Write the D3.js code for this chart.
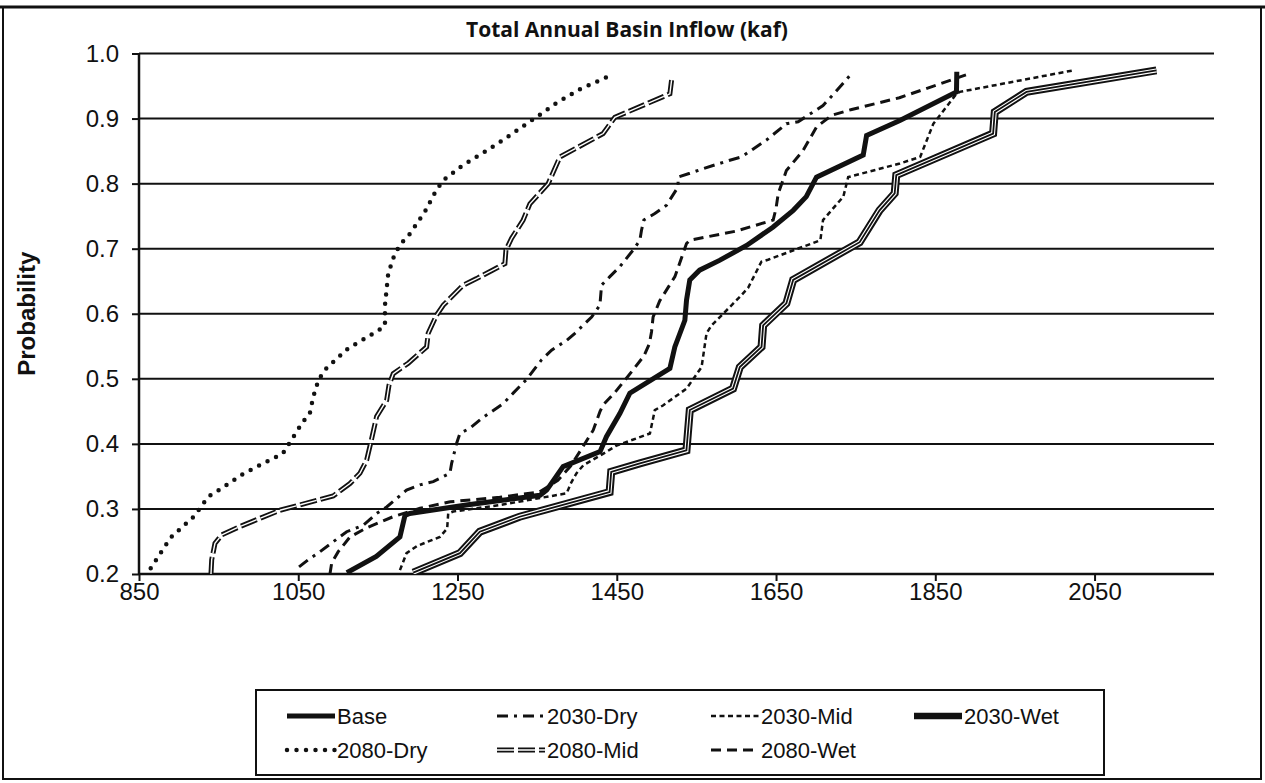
<!DOCTYPE html>
<html>
<head>
<meta charset="utf-8">
<script src="https://cdn.jsdelivr.net/npm/d3@7"></script>
<style>
  html, body { margin: 0; padding: 0; background: #fff; }
  svg { display: block; }
</style>
</head>
<body>
<svg id="chart" width="1265" height="783"></svg>
<script>
// ---------------- DATA (value kaf, probability) ----------------
const title = "Total Annual Basin Inflow (kaf)";
const yAxisLabel = "Probability";
const xTickValues = [850, 1050, 1250, 1450, 1650, 1850, 2050];
const yTickValues = [0.2, 0.3, 0.4, 0.5, 0.6, 0.7, 0.8, 0.9, 1.0];
const xDomain = [850, 2200];
const yDomain = [0.2, 1.0];

const base = [[1111,0.202],[1148,0.227],[1177.7,0.257],[1184,0.290],[1190,0.293],[1261,0.306],[1353.5,0.321],[1362,0.329],[1382.6,0.365],[1429,0.388],[1437,0.411],[1454,0.447],[1466.4,0.478],[1516.7,0.516],[1522.9,0.549],[1535.5,0.590],[1537.6,0.621],[1541.7,0.652],[1554,0.667],[1579,0.682],[1613,0.705],[1646,0.733],[1671.6,0.759],[1688,0.780],[1700.8,0.810],[1759.5,0.844],[1763.7,0.874],[1805.5,0.897],[1876.6,0.941],[1877,0.972]];

const dry2030 = [[1051,0.211],[1062.6,0.222],[1077,0.234],[1110.8,0.265],[1131.6,0.275],[1148.4,0.293],[1161,0.303],[1186,0.329],[1202.8,0.337],[1219.5,0.342],[1240.5,0.355],[1242.6,0.370],[1248.9,0.401],[1253,0.416],[1265.5,0.424],[1280.3,0.439],[1307.4,0.462],[1319.9,0.478],[1336.7,0.499],[1355.5,0.529],[1368.1,0.544],[1386.9,0.559],[1397.4,0.570],[1418.4,0.595],[1428.8,0.613],[1430.9,0.644],[1441.3,0.657],[1453.6,0.672],[1470.6,0.698],[1479,0.713],[1481,0.728],[1484,0.744],[1497.8,0.754],[1512.5,0.767],[1527,0.795],[1527,0.810],[1541.8,0.816],[1558.5,0.823],[1592,0.836],[1606.7,0.841],[1621,0.853],[1638,0.867],[1663,0.892],[1677.7,0.895],[1709,0.920],[1724,0.940],[1734,0.954],[1744.8,0.969]];

const mid2030 = [[1177.7,0.206],[1186,0.232],[1199,0.243],[1227.9,0.257],[1237,0.270],[1238.3,0.293],[1244.6,0.296],[1303.2,0.306],[1387,0.324],[1393,0.341],[1399.5,0.355],[1408,0.367],[1437.2,0.388],[1449,0.397],[1491.6,0.416],[1497.8,0.452],[1508,0.459],[1537.6,0.485],[1556.5,0.518],[1562.7,0.570],[1569,0.582],[1604.6,0.626],[1615,0.640],[1631.6,0.680],[1640,0.683],[1705.7,0.713],[1709,0.744],[1734.5,0.780],[1740.6,0.810],[1805.5,0.831],[1831,0.841],[1847.5,0.892],[1876.6,0.938],[1880.8,0.941],[2023,0.974]];

const wet2030 = [[1194.4,0.202],[1253,0.232],[1278,0.265],[1328,0.288],[1441,0.326],[1443,0.357],[1479,0.370],[1537.5,0.390],[1541.7,0.452],[1596,0.485],[1604.5,0.518],[1631.8,0.549],[1633.8,0.582],[1663,0.616],[1671.5,0.652],[1755,0.710],[1780,0.759],[1799,0.785],[1801,0.813],[1922.6,0.877],[1924.7,0.910],[1964.5,0.941],[2127.7,0.974]];

const dry2080 = [[864.7,0.209],[889.8,0.256],[919.4,0.289],[937,0.319],[951.7,0.330],[980.9,0.354],[1006.1,0.370],[1030.4,0.385],[1038.3,0.400],[1054.3,0.431],[1064.7,0.448],[1068.8,0.472],[1075.1,0.497],[1082.6,0.513],[1094,0.526],[1112.8,0.547],[1137.9,0.565],[1158.9,0.581],[1158.9,0.613],[1163,0.662],[1171.4,0.693],[1179.8,0.709],[1190.2,0.723],[1209.1,0.757],[1222.9,0.789],[1232,0.805],[1255.2,0.827],[1284.4,0.849],[1309.5,0.869],[1336.8,0.892],[1351.3,0.904],[1374.4,0.924],[1403.7,0.945],[1428.8,0.959],[1441.3,0.966]];

const mid2080 = [[940.4,0.200],[941.3,0.222],[945.4,0.247],[953.8,0.260],[976.8,0.273],[1027,0.298],[1093.9,0.320],[1114.9,0.339],[1127.5,0.355],[1135.9,0.375],[1140.9,0.401],[1148.4,0.442],[1161,0.467],[1163.9,0.490],[1169.3,0.508],[1188.1,0.524],[1211.2,0.549],[1213.2,0.570],[1223.7,0.598],[1232,0.613],[1257.1,0.644],[1273.9,0.654],[1309.5,0.677],[1310.8,0.698],[1317.9,0.716],[1332.4,0.744],[1340.9,0.769],[1363.9,0.800],[1378.6,0.841],[1432.9,0.877],[1447.6,0.902],[1516.7,0.938],[1518.8,0.959]];

const wet2080 = [[1089.8,0.200],[1092,0.217],[1100,0.234],[1115,0.257],[1136,0.271],[1169,0.288],[1203,0.301],[1241,0.311],[1303,0.318],[1353,0.326],[1376,0.344],[1392,0.366],[1403.6,0.388],[1420.4,0.421],[1429,0.450],[1433,0.460],[1447,0.478],[1470,0.513],[1484,0.535],[1491,0.554],[1493.6,0.572],[1495.6,0.595],[1504,0.620],[1523,0.657],[1537.6,0.708],[1541.7,0.713],[1600,0.727],[1646.4,0.744],[1650,0.762],[1652.8,0.785],[1663,0.820],[1684,0.851],[1700.8,0.887],[1720,0.905],[1745,0.914],[1805,0.932],[1893,0.969]];

const seriesNames = ["Base","2030-Dry","2030-Mid","2030-Wet","2080-Dry","2080-Mid","2080-Wet"];

// ---------------- STYLES ----------------
const styles = {
  "Base":     [{w:5, dash:null}],
  "2030-Dry": [{w:3, dash:"11,6,3,6"}],
  "2030-Mid": [{w:2.5, dash:"5,3.5"}],
  "2030-Wet": [{w:8, dash:null},{w:4, dash:null, color:"#fff"},{w:1.8, dash:null}],
  "2080-Dry": [{w:4.5, dash:"0,9.5", cap:"round"}],
  "2080-Mid": [{w:5, dash:"17,4"},{w:1.4, dash:"17,4", color:"#fff"}],
  "2080-Wet": [{w:3, dash:"10,6"}]
};
const legendStyles = Object.assign({}, styles, {"2030-Wet":[{w:6.5,dash:null}]});
const seriesData = {"Base":base,"2030-Dry":dry2030,"2030-Mid":mid2030,"2030-Wet":wet2030,"2080-Dry":dry2080,"2080-Mid":mid2080,"2080-Wet":wet2080};

// ---------------- DRAW ----------------
const svg = d3.select("#chart");
const L = 139, R = 1214, T = 53.5, B = 574;
const x = d3.scaleLinear().domain(xDomain).range([L, R]);
const y = d3.scaleLinear().domain(yDomain).range([B, T]);

// outer frame
svg.append("rect").attr("x",3).attr("y",7).attr("width",1258).attr("height",772)
  .attr("fill","none").attr("stroke","#111").attr("stroke-width",2);
svg.append("line").attr("x1",0).attr("x2",1265).attr("y1",7).attr("y2",7).attr("stroke","#111").attr("stroke-width",3);

// title
svg.append("text").attr("x",627).attr("y",37).attr("text-anchor","middle")
  .attr("font-family","'Open Sans', sans-serif").attr("font-weight",700).attr("font-size",21)
  .attr("fill","#111").text(title);

// gridlines
svg.append("g").selectAll("line").data(yTickValues.filter(v=>v>0.2)).join("line")
  .attr("x1",L).attr("x2",R).attr("y1",d=>y(d)).attr("y2",d=>y(d))
  .attr("stroke","#111").attr("stroke-width",2);

// axes
const fontAxis = "'Liberation Sans', Arial, sans-serif";
const yAxis = d3.axisLeft(y).tickValues(yTickValues).tickFormat(d3.format(".1f")).tickSize(7).tickPadding(13);
const gy = svg.append("g").attr("transform",`translate(${L},0)`).call(yAxis);
const xAxis = d3.axisBottom(x).tickValues(xTickValues).tickFormat(d3.format("d")).tickSize(7).tickPadding(2);
const gx = svg.append("g").attr("transform",`translate(0,${B})`).call(xAxis);
[gx, gy].forEach(g => {
  g.select(".domain").attr("stroke","#111").attr("stroke-width",2.5);
  g.selectAll(".tick line").attr("stroke","#111").attr("stroke-width",2);
  g.selectAll(".tick text").attr("font-family",fontAxis).attr("font-size",24).attr("fill","#111");
});
gx.select(".domain").attr("d", `M${L},0H${R}`);
gy.select(".domain").attr("d", `M0,${B}V${T}`);
gx.selectAll(".tick text").attr("dy","0.71em");

// y label
svg.append("text").attr("transform",`translate(35,${(T+B)/2}) rotate(-90)`)
  .attr("text-anchor","middle").attr("font-family",fontAxis).attr("font-weight",700)
  .attr("font-size",24).attr("fill","#111").text(yAxisLabel);

// clip
svg.append("clipPath").attr("id","plotclip").append("rect")
  .attr("x",L).attr("y",T-20).attr("width",R-L).attr("height",B-T+20);

const line = d3.line().x(d=>x(d[0])).y(d=>y(d[1]));
const plot = svg.append("g").attr("clip-path","url(#plotclip)");
const order = ["2080-Dry","2080-Mid","2030-Dry","2080-Wet","2030-Mid","2030-Wet","Base"];
order.forEach(name => {
  styles[name].forEach(s => {
    plot.append("path").datum(seriesData[name]).attr("d",line)
      .attr("fill","none").attr("stroke",s.color||"#111").attr("stroke-width",s.w)
      .attr("stroke-dasharray",s.dash).attr("stroke-linecap",s.cap||"butt")
      .attr("stroke-linejoin","miter");
  });
});

// legend
const lg = svg.append("g");
lg.append("rect").attr("x",256).attr("y",690).attr("width",848).attr("height",85)
  .attr("fill","#fff").attr("stroke","#111").attr("stroke-width",2);
const colX = [287, 497, 711, 914];
const rowY = [716, 750];
seriesNames.forEach((name,i) => {
  const cx = colX[i % 4], cy = rowY[Math.floor(i/4)];
  legendStyles[name].forEach(s => {
    lg.append("line").attr("x1",cx).attr("x2",cx+48).attr("y1",cy).attr("y2",cy)
      .attr("stroke",s.color||"#111").attr("stroke-width",s.w)
      .attr("stroke-dasharray",s.dash).attr("stroke-linecap",s.cap||"butt");
  });
  lg.append("text").attr("x",cx+50).attr("y",cy).attr("dy","0.35em")
    .attr("font-family",fontAxis).attr("font-size",22).attr("fill","#111").text(name);
});
</script>
</body>
</html>
